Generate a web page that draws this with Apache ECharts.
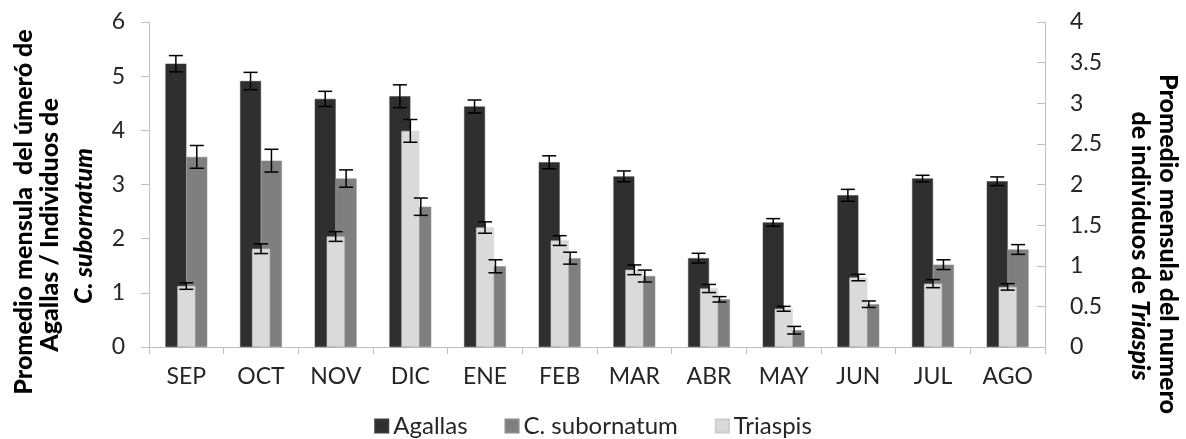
<!DOCTYPE html>
<html>
<head>
<meta charset="utf-8">
<script src="https://cdn.jsdelivr.net/npm/echarts@6/dist/echarts.min.js"></script>
<style>
html,body{margin:0;padding:0;background:#fff;}
#c{width:1186px;height:439px;}
</style>
</head>
<body>
<div id="c"></div>
<script>
const months = ['SEP','OCT','NOV','DIC','ENE','FEB','MAR','ABR','MAY','JUN','JUL','AGO'];
const agallas = [5.23,4.91,4.58,4.63,4.44,3.41,3.15,1.64,2.30,2.80,3.11,3.06];
const agallasErr = [0.15,0.16,0.14,0.21,0.12,0.12,0.10,0.09,0.07,0.11,0.06,0.08];
const cSub = [3.51,3.44,3.11,2.59,1.49,1.64,1.31,0.88,0.31,0.79,1.52,1.80];
const cSubErr = [0.21,0.21,0.16,0.16,0.12,0.11,0.11,0.05,0.07,0.06,0.09,0.09];
const triaspis = [0.75,1.21,1.36,2.66,1.47,1.31,0.95,0.72,0.47,0.855,0.78,0.74];
const triaspisErr = [0.04,0.06,0.06,0.14,0.07,0.06,0.06,0.05,0.03,0.04,0.05,0.04];
const leftTicks = [0,1,2,3,4,5,6];
const rightTicks = [0,0.5,1,1.5,2,2.5,3,3.5,4];

const FONT = 'Lato';
const axisColor = '#bfbfbf';
const textColor = '#262626';
const TITLE_FONT = '900 25px Lato';
const TITLE_FONT_IT = 'italic 900 25px Lato';

function errItem(offsetFrac) {
  return function (params, api) {
    const i = api.value(0), v = api.value(1), e = api.value(2);
    const band = api.size([1, 0])[0];
    const c = api.coord([i, v]);
    const x = c[0] + band * offsetFrac;
    const top = api.coord([i, v + e])[1];
    const bot = api.coord([i, v - e])[1];
    const hw = 7;
    const st = { stroke: '#000', lineWidth: 1.5 };
    return {
      type: 'group',
      children: [
        { type: 'line', shape: { x1: x, y1: top, x2: x, y2: bot }, style: st },
        { type: 'line', shape: { x1: x - hw, y1: top, x2: x + hw, y2: top }, style: st },
        { type: 'line', shape: { x1: x - hw, y1: bot, x2: x + hw, y2: bot }, style: st }
      ]
    };
  };
}
function errData(vals, errs) { return vals.map((v, i) => [i, v, errs[i]]); }

const chart = echarts.init(document.getElementById('c'));
chart.setOption({
  animation: false,
  textStyle: { fontFamily: FONT },
  grid: { left: 149, right: 141, top: 22, bottom: 92 },
  legend: {
    data: ['Agallas', 'C. subornatum', 'Triaspis'],
    left: 'center', top: 409,
    icon: 'rect', itemWidth: 13, itemHeight: 13, itemGap: 37,
    textStyle: { fontFamily: FONT, fontSize: 24, color: textColor }
  },
  xAxis: [
    {
      type: 'category', data: months,
      axisLine: { lineStyle: { color: axisColor, width: 1 } },
      axisTick: { show: true, length: 7, lineStyle: { color: axisColor } },
      axisLabel: { fontFamily: FONT, fontSize: 23, color: textColor, margin: 18 }
    },
    {
      type: 'category', data: months, position: 'bottom',
      show: false
    }
  ],
  yAxis: [
    {
      type: 'value', min: 0, max: 6, interval: 1,
      splitLine: { show: false },
      axisLine: { show: true, lineStyle: { color: axisColor } },
      axisTick: { show: true, length: 8, lineStyle: { color: axisColor } },
      axisLabel: { fontFamily: FONT, fontSize: 23, color: textColor, margin: 24 }
    },
    {
      type: 'value', min: 0, max: 4, interval: 0.5, position: 'right',
      splitLine: { show: false },
      axisLine: { show: true, lineStyle: { color: axisColor } },
      axisTick: { show: true, inside: true, length: 8, lineStyle: { color: axisColor } },
      axisLabel: { fontFamily: FONT, fontSize: 23, color: textColor, margin: 25 }
    }
  ],
  series: [
    {
      name: 'Agallas', type: 'bar', data: agallas, xAxisIndex: 0, yAxisIndex: 0,
      barWidth: '28%', barGap: '0%',
      itemStyle: { color: '#2f2f2f', borderColor: '#3a3a3a', borderWidth: 0.5 }
    },
    {
      name: 'C. subornatum', type: 'bar', data: cSub, xAxisIndex: 0, yAxisIndex: 0,
      barWidth: '28%', barGap: '0%',
      itemStyle: { color: '#7f7f7f', borderColor: '#8a8a8a', borderWidth: 0.5 }
    },
    {
      name: 'Triaspis', type: 'bar', data: triaspis, xAxisIndex: 1, yAxisIndex: 1,
      barWidth: '24%', z: 3,
      itemStyle: { color: '#dadada', borderColor: '#cccccc', borderWidth: 0.5 }
    },
    {
      name: 'errA', type: 'custom', xAxisIndex: 0, yAxisIndex: 0, z: 5,
      renderItem: errItem(-0.14), data: errData(agallas, agallasErr),
      encode: { x: 0, y: 1 }, silent: true
    },
    {
      name: 'errC', type: 'custom', xAxisIndex: 0, yAxisIndex: 0, z: 5,
      renderItem: errItem(0.14), data: errData(cSub, cSubErr),
      encode: { x: 0, y: 1 }, silent: true
    },
    {
      name: 'errT', type: 'custom', xAxisIndex: 1, yAxisIndex: 1, z: 6,
      renderItem: errItem(0), data: errData(triaspis, triaspisErr),
      encode: { x: 0, y: 1 }, silent: true
    }
  ],
  graphic: [
    { type: 'text', x: 24, y: 212, rotation: Math.PI / 2,
      style: { text: 'Promedio mensula  del úmeró de', font: TITLE_FONT, fill: '#000', align: 'center', verticalAlign: 'middle' } },
    { type: 'text', x: 50, y: 225, rotation: Math.PI / 2,
      style: { text: 'Agallas / Individuos de', font: TITLE_FONT, fill: '#000', align: 'center', verticalAlign: 'middle' } },
    { type: 'text', x: 84, y: 226, rotation: Math.PI / 2,
      style: { text: 'C. subornatum', font: TITLE_FONT_IT, fill: '#000', align: 'center', verticalAlign: 'middle' } },
    { type: 'text', x: 1168, y: 244, rotation: -Math.PI / 2,
      style: { text: 'Promedio mensula del numero', font: TITLE_FONT, fill: '#000', align: 'center', verticalAlign: 'middle' } },
    { type: 'text', x: 1140, y: 246, rotation: -Math.PI / 2,
      style: { text: '{a|de individuos de }{b|Triaspis}', align: 'center', verticalAlign: 'middle',
        rich: { a: { font: TITLE_FONT, fill: '#000', color: '#000' }, b: { font: TITLE_FONT_IT, fill: '#000', color: '#000' } } } }
  ]
});
</script>
</body>
</html>
